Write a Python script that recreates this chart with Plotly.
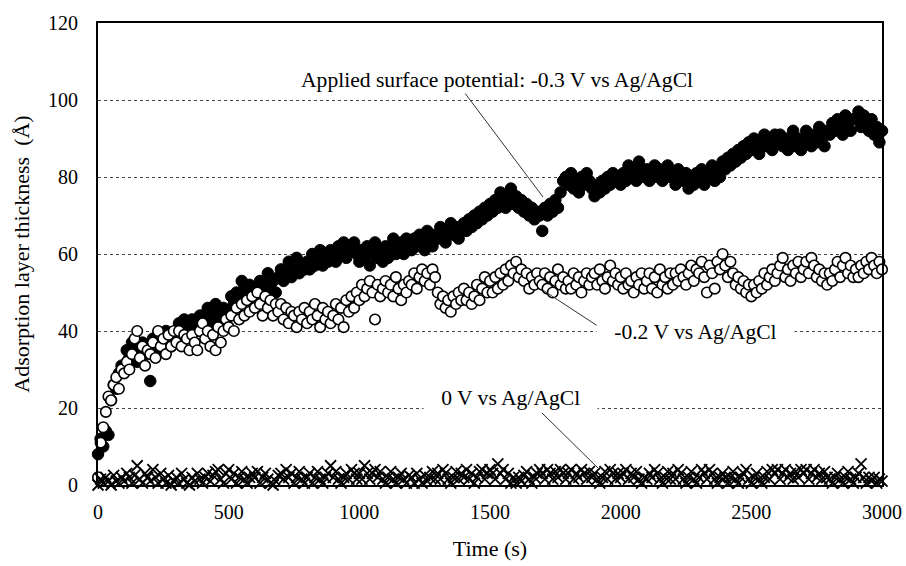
import plotly.graph_objects as go

# Time axis (s), sampled every 10 s
time_s = list(range(0, 3001, 10))

# Adsorption layer thickness (Å) at -0.3 V vs Ag/AgCl (filled circles)
thick_m03 = [
    8, 12, 10, 14, 13, 22, 26, 25, 29, 31,
    31, 35, 33, 37, 34, 32, 36, 37, 34, 36,
    27, 38, 35, 39, 37, 35, 40, 38, 36, 39,
    38, 42, 40, 43, 41, 39, 43, 42, 40, 44,
    44, 41, 46, 44, 42, 47, 45, 43, 46, 44,
    45, 49, 47, 50, 48, 53, 52, 50, 52, 49,
    51, 48, 53, 50, 52, 55, 51, 53, 50, 54,
    56, 53, 55, 58, 54, 56, 59, 55, 57, 56,
    58, 56, 60, 57, 59, 61, 57, 60, 58, 61,
    60, 58, 62, 60, 63, 59, 62, 61, 63, 60,
    58, 61, 59, 62, 57, 60, 63, 59, 61, 58,
    62, 59, 61, 64, 60, 62, 63, 60, 64, 62,
    61, 64, 62, 65, 63, 61, 66, 64, 62, 65,
    64, 67, 65, 63, 66, 68, 65, 67, 64, 66,
    68, 66, 69, 67, 70, 68, 71, 69, 72, 70,
    73, 71, 74, 72, 76, 74, 72, 75, 77, 73,
    75, 72, 74, 71, 73, 70, 72, 69, 71, 70,
    66, 72, 70, 73, 71, 74, 72, 76, 79, 80,
    78, 81, 77, 79, 76, 80, 78, 81, 79, 77,
    75, 78, 76, 79, 77, 80, 78, 81, 79, 80,
    78, 81, 79, 83, 80, 82, 79, 84, 81, 80,
    82, 79, 81, 83, 80, 82, 79, 81, 83, 80,
    81, 78, 82, 80, 79, 81, 77, 80, 78, 81,
    79, 82, 78, 81, 80, 83, 79, 82, 80, 84,
    82, 85, 83, 86, 84, 87, 85, 88, 86, 89,
    87, 90, 88, 86, 89, 91, 88, 90, 87, 91,
    89, 91, 88, 90, 87, 89, 92, 88, 90, 87,
    89, 92, 90, 88, 91, 89, 93, 90, 88, 92,
    91, 94, 92, 95, 93, 91, 96, 94, 92, 95,
    95, 97, 93, 96, 94, 92, 95, 91, 93, 89,
    92,
]

# -0.2 V vs Ag/AgCl (open circles)
thick_m02 = [
    2, 11, 15, 19, 23, 22, 26, 28, 25, 30,
    29, 32, 30, 34, 38, 40, 33, 36, 31, 35,
    34, 37, 33, 40, 36, 38, 34, 39, 36, 40,
    37, 40, 36, 39, 38, 35, 39, 37, 35, 40,
    42, 38, 40, 36, 39, 35, 41, 37, 40, 43,
    41, 44, 40, 46, 43, 47, 44, 48, 45, 49,
    46, 50, 47, 44, 49, 46, 48, 44, 47, 45,
    47, 43, 46, 42, 45, 44, 41, 45, 43, 46,
    42, 45, 43, 47, 44, 41, 46, 43, 45, 42,
    44, 47, 43, 46, 41, 48, 45, 49, 46, 50,
    48, 52, 49, 51, 53, 50, 43, 52, 49, 51,
    53, 50, 52, 49, 54, 51, 48, 52, 50, 53,
    52, 55, 51, 54, 56, 53, 55, 52, 56, 54,
    50, 47, 49, 46, 48, 45, 49, 47, 50, 48,
    51, 48, 50, 47, 49, 52, 48, 51, 54, 50,
    53, 50, 54, 51, 55, 52, 56, 53, 57, 55,
    58, 54, 56, 53, 55, 51, 54, 52, 55, 53,
    52, 55, 51, 54, 50, 53, 56, 52, 54, 51,
    53, 51, 55, 52, 54, 50, 53, 55, 52, 54,
    55, 52, 56, 53, 51, 54, 57, 53, 55, 52,
    54, 51, 55, 52, 53, 50, 54, 52, 55, 51,
    53, 55, 51, 54, 50, 56, 52, 54, 51, 55,
    52, 55, 53, 56, 54, 52, 55, 57, 53, 56,
    55, 58, 54, 50, 57, 55, 51, 58, 56, 60,
    57, 54, 58, 55, 52, 54, 51, 53, 50, 52,
    49, 52, 50, 53, 51, 55, 52, 54, 56, 53,
    55, 57, 59, 54, 56, 53, 57, 55, 58, 54,
    56, 58, 55, 59, 57, 54, 56, 53, 55, 52,
    55, 53, 56, 58, 54, 57, 59, 55, 57, 54,
    56, 54, 57, 55, 58, 56, 59, 57, 55, 58,
    56,
]

# 0 V vs Ag/AgCl (crosses)
thick_0 = [
    0, 1.5, 0.5, 2, 1, 0, 2.5, 1, 0.5, 2,
    1, 3, 2, 0.5, 2.5, 5, 1.5, 0.5, 3, 2,
    1, 4, 2, 0.5, 3, 1.5, 0.5, 2.5, 0, 1,
    2, 0.5, 3, 1.5, 0.5, 0, 2, 1, 3, 1.5,
    0.5, 2, 3, 1, 2.5, 3.5, 4, 1.5, 0.5, 3,
    4, 1.5, 3, 0.5, 2, 3.5, 1.5, 0.5, 2, 3,
    2, 3.5, 0.5, 2, 3, 1.5, 0.5, 0, 1, 2.5,
    3, 1.5, 4, 2, 3, 0.5, 2, 3.5, 1.5, 0.5,
    2, 3, 0.5, 2, 3.5, 1.5, 0.5, 2, 3, 5,
    2, 3.5, 1.5, 0.5, 2, 3, 1.5, 4, 3, 1.5,
    3, 1.5, 5, 3, 1.5, 3, 4, 2, 3.5, 1.5,
    0.5, 2, 3.5, 1.5, 0.5, 2, 3, 1.5, 0.5, 2.5,
    2, 0.5, 3, 1.5, 0.5, 2.5, 1, 2, 3.5, 1.5,
    3, 1.5, 4, 3, 1.5, 0.5, 2, 3.5, 1.5, 3,
    2, 4, 1.5, 3, 0.5, 2, 3.5, 4, 1.5, 3,
    4, 3, 1.5, 5.5, 3, 4, 1.5, 3, 0.5, 2,
    0.5, 2, 1, 2.5, 3.5, 1.5, 0.5, 2, 3, 4,
    3, 1.5, 4, 3, 1.5, 3.5, 2, 4, 3, 1.5,
    3, 4, 1.5, 3, 2, 4, 3, 1.5, 3.5, 2,
    3, 1.5, 0.5, 2, 3.5, 1.5, 4, 3, 1.5, 3,
    2, 3, 4, 1.5, 3, 2, 3.5, 1.5, 0.5, 2,
    1.5, 3, 2, 4, 3, 1.5, 0.5, 2, 3.5, 1.5,
    3, 1.5, 4, 3, 1.5, 0.5, 2, 3.5, 1.5, 0.5,
    2, 4, 3, 1.5, 4, 3, 1.5, 0.5, 2, 3,
    2, 0.5, 2, 3.5, 1.5, 0.5, 2, 3, 4, 1.5,
    0.5, 2, 3, 1.5, 0.5, 2, 3.5, 1.5, 4, 3,
    4, 1.5, 3, 4, 2, 3, 1.5, 3.5, 2, 4,
    3, 4, 1.5, 3, 4, 2, 3, 1.5, 3.5, 2,
    1.5, 0.5, 2, 3, 1.5, 0.5, 2, 3.5, 1.5, 0.5,
    2, 3, 5.5, 2, 0.5, 2, 1, 2, 0.5, 1.5,
    1,
]

x_ticks = [0, 500, 1000, 1500, 2000, 2500, 3000]
y_ticks = [0, 20, 40, 60, 80, 100, 120]

FONT = "Liberation Serif, Times New Roman, serif"

fig = go.Figure()
fig.add_trace(go.Scatter(
    x=time_s, y=thick_m03, mode="markers", name="-0.3 V",
    marker=dict(symbol="circle", size=11.5, color="black",
                line=dict(color="black", width=1)),
    cliponaxis=False, showlegend=False))
fig.add_trace(go.Scatter(
    x=time_s, y=thick_m02, mode="markers", name="-0.2 V",
    marker=dict(symbol="circle", size=10.5, color="white",
                line=dict(color="black", width=1.6)),
    cliponaxis=False, showlegend=False))
fig.add_trace(go.Scatter(
    x=time_s, y=thick_0, mode="markers", name="0 V",
    marker=dict(symbol="x-thin", size=11, color="black",
                line=dict(color="black", width=1.8)),
    cliponaxis=False, showlegend=False))

NB = "\u00a0\u00a0\u00a0"
annots = [
    dict(text="Applied surface potential: -0.3 V vs Ag/AgCl", x=1527, y=105.2),
    dict(text=NB + "-0.2 V vs Ag/AgCl" + NB, x=2288, y=39.7),
    dict(text=NB + "0 V vs Ag/AgCl" + NB, x=1580, y=22.6),
]
for a in annots:
    fig.add_annotation(x=a["x"], y=a["y"], xref="x", yref="y", text=a["text"],
                       showarrow=False, bgcolor="white", borderpad=1,
                       font=dict(family=FONT, size=21.6, color="black"))

leaders = [
    (1404, 101.8, 1703, 74.8),
    (1703, 50.6, 1948, 39.7),
    (1699, 18.7, 1921, 3.9),
]
for x0, y0, x1, y1 in leaders:
    fig.add_shape(type="line", xref="x", yref="y", x0=x0, y0=y0, x1=x1, y1=y1,
                  line=dict(color="#333333", width=1))

fig.update_layout(
    width=906, height=566,
    margin=dict(l=98, r=24, t=23, b=81),
    paper_bgcolor="white", plot_bgcolor="white",
    font=dict(family=FONT, size=20, color="black"),
    xaxis=dict(
        range=[0, 3000], tickvals=x_ticks, showgrid=False, zeroline=False,
        showline=True, linecolor="black", linewidth=2, mirror=True,
        ticks="", ticklabelstandoff=8, automargin=False,
        ticklabeloverflow="allow",
        tickfont=dict(family=FONT, size=20, color="black"),
        title=dict(text="Time (s)", font=dict(family=FONT, size=22, color="black"),
                   standoff=19),
    ),
    yaxis=dict(
        range=[0, 120], tickvals=y_ticks, showgrid=True, gridcolor="#444444",
        griddash="dot", gridwidth=1, zeroline=False,
        showline=True, linecolor="black", linewidth=2, mirror=True,
        ticks="", ticklabelstandoff=14, automargin=False,
        ticklabeloverflow="allow",
        tickfont=dict(family=FONT, size=20, color="black"),
        title=dict(text="Adsorption layer thickness\u00a0 (Å)",
                   font=dict(family=FONT, size=22, color="black"), standoff=12),
    ),
)

# remove the default 8 px page margin so the figure fills the window exactly
fig.write_html("out.html",
               config={"displayModeBar": False},
               post_script="document.body.style.margin='0px';"
                           "document.body.style.overflow='hidden';")
